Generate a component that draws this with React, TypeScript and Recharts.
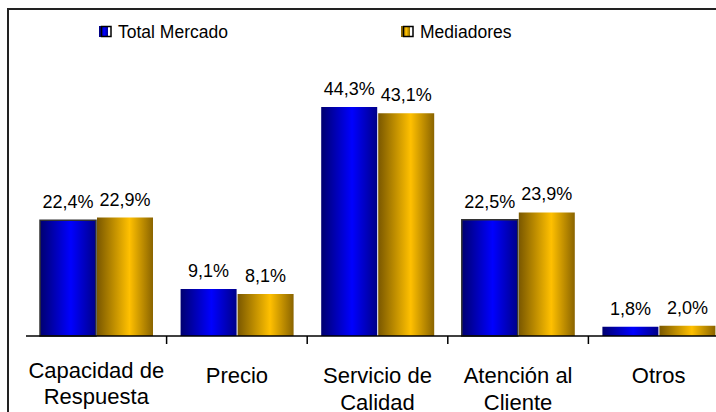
import { BarChart, Bar, XAxis, YAxis, Legend, LabelList, Cell } from "recharts";

const categories = ["Capacidad de\nRespuesta", "Precio", "Servicio de\nCalidad", "Atención al\nCliente", "Otros"];
const totalMercado = [22.4, 9.1, 44.3, 22.5, 1.8];
const mediadores = [22.9, 8.1, 43.1, 23.9, 2.0];
const seriesNames = ["Total Mercado", "Mediadores"];

const data = categories.map((c, i) => ({
  name: c,
  total: totalMercado[i],
  med: mediadores[i],
}));

const font = "'Liberation Sans', Arial, sans-serif";

const fmt = (v: number) => v.toFixed(1).replace(".", ",") + "%";

function CategoryTick(props: any) {
  const { x, y, payload, index, width, visibleTicksCount } = props;
  const lines = String(payload.value).split("\n");
  // first label sits a bit higher so it fits in the frame
  const first = index === 0 ? 33.5 : 39;
  const band = width / (visibleTicksCount || categories.length);
  return (
    <g>
      {index > 0 && (
        <line x1={x - band / 2} x2={x - band / 2} y1={y - 8} y2={y} stroke="#000" strokeWidth={1.5} />
      )}
      {lines.map((l, i) => (
        <text
          key={i}
          x={x}
          y={y + first + i * 26.5}
          textAnchor="middle"
          fontSize={22}
          fontFamily={font}
          fill="#000"
        >
          {l}
        </text>
      ))}
    </g>
  );
}

function renderLegend() {
  const items = [
    { name: seriesNames[0], x: 99 },
    { name: seriesNames[1], x: 401 },
  ];
  return (
    <svg width={716} height={30} style={{ display: "block" }}>
      <defs>
        <linearGradient id="lgBlue" x1="0" y1="0" x2="1" y2="0">
          <stop offset="0%" stopColor="#00007a" />
          <stop offset="60%" stopColor="#0000ff" />
          <stop offset="100%" stopColor="#000090" />
        </linearGradient>
        <linearGradient id="lgGold" x1="0" y1="0" x2="1" y2="0">
          <stop offset="0%" stopColor="#7a5a00" />
          <stop offset="60%" stopColor="#ffc000" />
          <stop offset="100%" stopColor="#8a6a00" />
        </linearGradient>
      </defs>
      {items.map((it, i) => (
        <g key={i}>
          <rect x={it.x} y={7} width={9} height={11} fill={i === 0 ? "url(#lgBlue)" : "url(#lgGold)"} />
          <rect x={it.x + 2.5} y={7.5} width={9.5} height={10} fill="none" stroke="#000" strokeWidth={1.5} />
          <text x={it.x + 19} y={18.5} fontSize={17.5} fontFamily={font} fill="#000">
            {it.name}
          </text>
        </g>
      ))}
    </svg>
  );
}

export default function App() {
  return (
    <div
      style={{
        position: "absolute",
        left: 0,
        top: 0,
        width: 716,
        height: 412,
        overflow: "hidden",
        background: "#fff",
      }}
    >
      <div
        style={{
          position: "absolute",
          left: 7,
          top: 8,
          width: 800,
          height: 500,
          borderTop: "2px solid #222",
          borderLeft: "2px solid #222",
        }}
      />
      <div style={{ position: "absolute", left: 0, top: 0 }}>
        <BarChart
          width={740}
          height={412}
          data={data}
          margin={{ top: 77.5, right: 11, bottom: 0, left: 26 }}
          barSize={56}
          barGap={1}
        >
          <defs>
            <linearGradient id="gBlue" x1="0" y1="0" x2="1" y2="0">
              <stop offset="0%" stopColor="#000070" />
              <stop offset="55%" stopColor="#0000ff" />
              <stop offset="100%" stopColor="#000088" />
            </linearGradient>
            <linearGradient id="gGold" x1="0" y1="0" x2="1" y2="0">
              <stop offset="0%" stopColor="#7a5800" />
              <stop offset="58%" stopColor="#ffc000" />
              <stop offset="100%" stopColor="#8a6400" />
            </linearGradient>
          </defs>
          <XAxis
            dataKey="name"
            height={76}
            interval={0}
            axisLine={{ stroke: "#000", strokeWidth: 1.5 }}
            tickLine={false}
            tick={<CategoryTick />}
          />
          <YAxis hide domain={[0, 50]} />
          <Legend
            layout="horizontal"
            verticalAlign="middle"
            align="center"
            content={renderLegend}
            wrapperStyle={{ top: 19, left: 0, width: 716 }}
          />
          <Bar dataKey="total" name={seriesNames[0]} fill="url(#gBlue)" isAnimationActive={false}>
            {data.map((_, i) => (
              <Cell
                key={i}
                stroke={i === 0 || i === 3 ? "#333" : "none"}
                strokeWidth={i === 0 || i === 3 ? 1.5 : 0}
              />
            ))}
            <LabelList
              dataKey="total"
              position="top"
              offset={12}
              formatter={(v: any) => fmt(Number(v))}
              style={{ fontSize: 18, fontFamily: font, fill: "#000" }}
            />
          </Bar>
          <Bar dataKey="med" name={seriesNames[1]} fill="url(#gGold)" isAnimationActive={false}>
            <LabelList
              dataKey="med"
              position="top"
              offset={12}
              formatter={(v: any) => fmt(Number(v))}
              style={{ fontSize: 18, fontFamily: font, fill: "#000" }}
            />
          </Bar>
        </BarChart>
      </div>
    </div>
  );
}
